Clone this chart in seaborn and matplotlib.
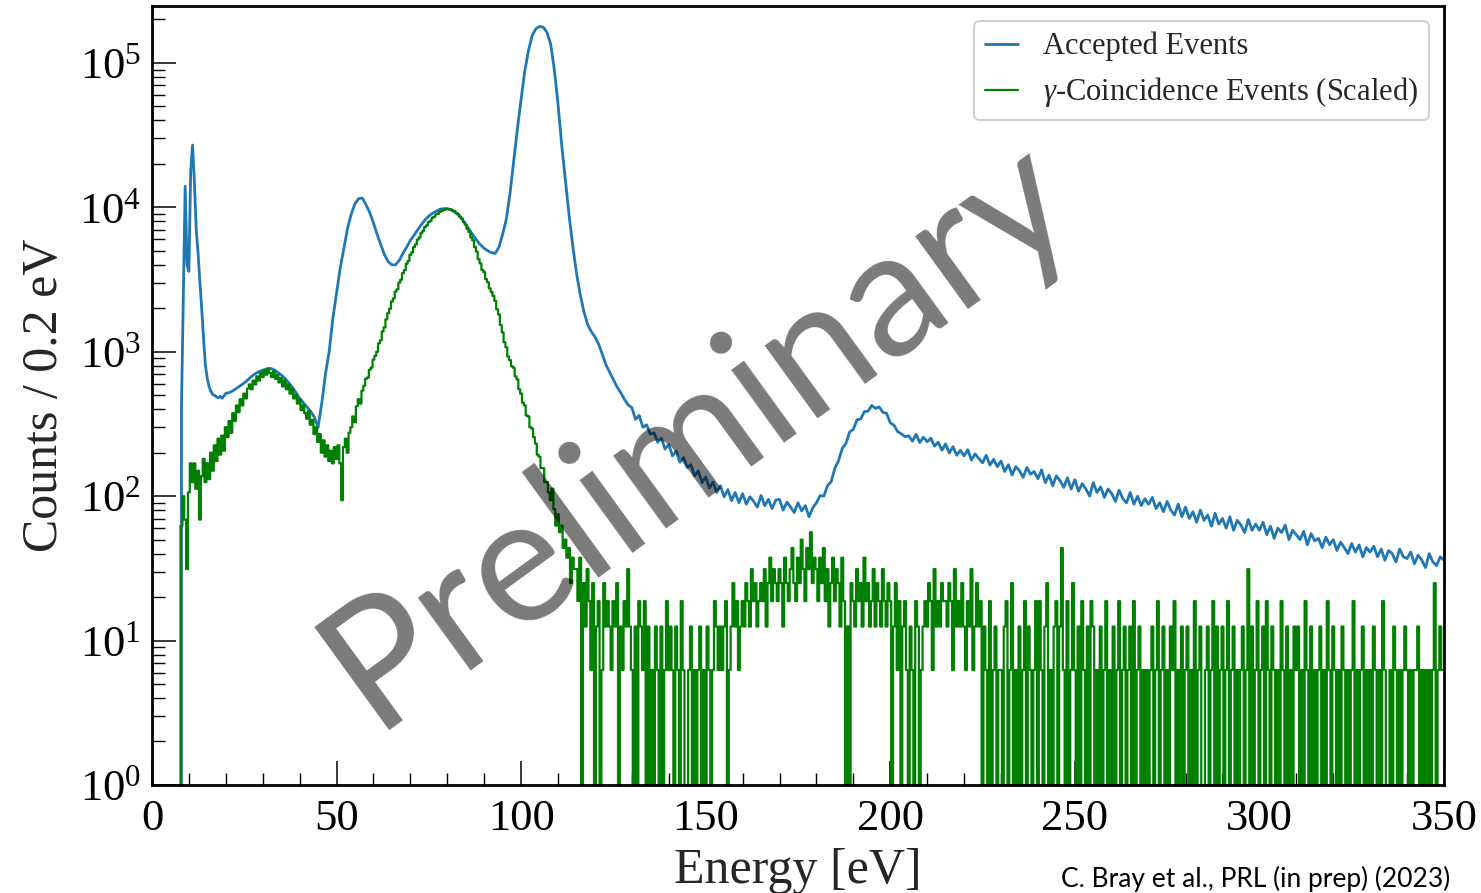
import numpy as np
import pandas as pd
import matplotlib
matplotlib.use("Agg")
import matplotlib.pyplot as plt
import matplotlib.ticker as mticker
import seaborn as sns

# ---------------- data (counts per 0.2 eV) ----------------
# Accepted events: fine sampling around the low-energy spikes (0.5 eV)
blue_energy_fine = [7.0, 7.5, 8.0, 8.5, 9.0, 9.5, 10.0, 10.5, 11.0, 11.5, 12.0, 12.5, 13.0,
                    13.5, 14.0, 14.5, 15.0, 15.5, 16.0, 16.5, 17.0, 17.5, 18.0, 18.5, 19.0, 19.5]
blue_counts_fine = [0, 0, 420, 2400, 14000, 4000, 3600, 18000, 27000, 15000, 7000, 4800, 3000,
                    1950, 1200, 800, 650, 570, 530, 505, 498, 486, 480, 492, 476, 494]
# Accepted events: 1 eV sampling from 20 to 350 eV
blue_counts_coarse = [
    515, 522, 538, 560, 582, 608, 640, 676, 705, 728,            # 20-29
    745, 760, 768, 752, 722, 690, 655, 612, 568, 522,            # 30-39
    476, 444, 414, 386, 352, 300, 440, 700, 1000, 1700,          # 40-49
    2550, 3800, 5200, 7200, 9000, 10600, 11500, 11600, 10400, 9200,   # 50-59
    7800, 6500, 5500, 4700, 4200, 4000, 4000, 4300, 4800, 5300,  # 60-69
    5900, 6400, 7000, 7600, 8200, 8700, 9100, 9400, 9700, 9800,  # 70-79
    9800, 9600, 9300, 8900, 8300, 7600, 7000, 6400, 5900, 5500,  # 80-89
    5200, 5000, 4850, 4800, 5300, 6500, 8300, 12500, 21000, 35000,    # 90-99
    56000, 88000, 122000, 155000, 172000, 179000, 177000, 163000, 135000, 90000,  # 100-109
    52000, 27000, 15500, 8800, 5400, 3500, 2500, 1900, 1550, 1380,    # 110-119
    1270, 1130, 960, 810, 720, 640, 570, 520, 468, 428,          # 120-129
    410, 340, 362, 300, 312, 268, 275, 236, 252, 212,            # 130-139
    228, 190, 205, 172, 185, 158, 165, 138, 150, 124,            # 140-149
    136, 114, 125, 106, 118, 99, 111, 93, 106, 90,               # 150-159
    104, 88, 99, 92, 84, 101, 86, 95, 82, 94,                    # 160-169
    95, 80, 91, 84, 77, 90, 79, 86, 72, 83,                      # 170-179
    90, 101, 100, 118, 126, 156, 176, 214, 232, 278,             # 180-189
    290, 338, 342, 385, 388, 425, 405, 415, 380, 375,            # 190-199
    322, 310, 280, 270, 258, 262, 240, 268, 235, 256,            # 200-209
    238, 252, 222, 236, 208, 230, 199, 220, 192, 208,            # 210-219
    190, 210, 178, 196, 182, 170, 192, 164, 180, 160,            # 220-229
    175, 148, 165, 140, 160, 150, 135, 158, 142, 148,            # 230-239
    132, 152, 124, 140, 118, 138, 128, 115, 134, 112,            # 240-249
    130, 108, 122, 112, 100, 124, 106, 116, 98, 112,             # 250-259
    104, 92, 110, 96, 90, 106, 88, 100, 86, 96,                  # 260-269
    88, 98, 82, 90, 78, 92, 80, 74, 88, 72,                      # 270-279
    84, 70, 78, 66, 80, 68, 74, 62, 76, 64,                      # 280-289
    70, 60, 72, 58, 68, 63, 56, 69, 58, 64,                      # 290-299
    58, 66, 54, 62, 51, 60, 56, 63, 50, 58,                      # 300-309
    54, 50, 57, 46, 55, 49, 51, 44, 52, 46,                      # 310-319
    50, 42, 48, 44, 40, 47, 41, 46, 38, 44,                      # 320-329
    41, 45, 38, 43, 36, 42, 40, 35, 43, 38,                      # 330-339
    37, 41, 34, 39, 36, 32, 40, 35, 33, 38,                      # 340-349
    36]                                                          # 350

# gamma-coincidence events (raw counts per 0.2 eV, sampled every 0.5 eV, 7.0 - 114.5 eV)
green_peak_counts = [
    0, 0, 10, 16, 11, 5, 17, 27, 20, 27, 18, 24, 11, 22, 29, 20, 27, 21,       # 7-15.5
    32, 24, 36, 28, 40, 31, 42, 33, 48, 41, 53, 44, 60, 53, 68, 61, 75, 68,    # 16-24.5
    82, 76, 89, 95, 88, 101, 95, 108, 101, 114, 107, 118, 111, 122, 114, 107,  # 25-32.5
    117, 104, 111, 98, 105, 92, 101, 88, 95, 82, 89, 76, 81, 70, 75, 63,       # 33-40.5
    68, 60, 55, 62, 50, 54, 43, 48, 38, 43, 32, 39, 30, 36, 28, 33,            # 41-48.5
    27, 35, 29, 36, 27, 15, 35, 40, 32, 44, 48, 57, 52, 67, 75, 70,            # 49-56.5
    86, 93, 104, 106, 120, 124, 141, 150, 160, 183, 192, 221, 236, 268, 296, 318,   # 57-64.5
    356, 374, 418, 433, 482, 505, 560, 588, 650, 680, 750, 780, 850, 885, 955, 990,  # 65-72.5
    1065, 1100, 1170, 1200, 1265, 1290, 1355, 1375, 1430, 1445, 1490, 1510, 1540, 1545,  # 73-79.5
    1560, 1550, 1550, 1520, 1505, 1460, 1430, 1375, 1335, 1265, 1215, 1130, 1080, 990,   # 80-86.5
    945, 850, 790, 700, 655, 590, 570, 510, 485, 440, 415, 390, 360, 315, 290, 245,      # 87-94.5
    218, 186, 172, 148, 140, 127, 124, 108, 103, 88, 82, 71, 68, 58, 57, 48,             # 95-102.5
    47, 41, 37, 31, 30, 25, 25, 20, 20, 17, 15, 18, 13, 10, 12, 9,                       # 103-110.5
    10, 7, 8, 6, 7, 4, 6, 5]                                                             # 111-114.5

# gamma-coincidence events, sparse tail (raw counts, every 0.5 eV, 115.0 - 349.5 eV)
green_tail_counts = [
    5, 3, 6, 0, 4, 2, 5, 3, 1, 4,   0, 2, 3, 0, 1, 4, 2, 3, 2, 1,   # 115-125
    3, 2, 4, 0, 2, 1, 3, 2, 5, 2,   1, 0, 2, 0, 3, 2, 1, 3, 0, 2,   # 125-135
    0, 1, 0, 2, 1, 0, 2, 0, 1, 3,   1, 2, 1, 0, 2, 1, 0, 3, 1, 0,   # 135-145
    0, 1, 2, 0, 1, 0, 1, 2, 0, 1,   0, 2, 1, 0, 1, 3, 2, 1, 2, 1,   # 145-155
    2, 3, 0, 1, 2, 4, 2, 3, 1, 2,   3, 2, 4, 3, 2, 5, 3, 4, 2, 3,   # 155-165
    4, 3, 5, 2, 4, 6, 3, 5, 4, 3,   5, 4, 2, 6, 4, 3, 5, 7, 4, 3,   # 165-175
    6, 4, 8, 5, 3, 7, 5, 9, 4, 6,   5, 3, 6, 4, 7, 3, 5, 2, 4, 6,   # 175-185
    3, 5, 4, 2, 6, 3, 0, 2, 0, 4,   3, 2, 5, 3, 4, 2, 6, 3, 4, 2,   # 185-195
    3, 5, 2, 4, 3, 2, 5, 3, 2, 4,   3, 0, 2, 4, 1, 3, 0, 2, 3, 1,   # 195-205
    0, 2, 1, 0, 3, 2, 0, 1, 2, 3,   2, 4, 3, 1, 5, 2, 3, 2, 4, 3,   # 205-215
    3, 2, 4, 3, 1, 5, 2, 3, 2, 4,   2, 1, 3, 2, 5, 1, 2, 4, 2, 3,   # 215-225
    0, 2, 1, 0, 3, 0, 1, 2, 0, 1,   1, 0, 2, 3, 0, 1, 4, 0, 1, 0,   # 225-235
    2, 0, 1, 3, 0, 2, 1, 0, 1, 3,   0, 3, 1, 0, 2, 4, 0, 1, 0, 2,   # 235-245
    3, 0, 2, 7, 1, 0, 3, 0, 1, 4,   1, 0, 2, 0, 3, 1, 0, 2, 0, 3,   # 245-255
    2, 0, 1, 0, 2, 0, 1, 3, 0, 1,   0, 2, 0, 1, 3, 0, 1, 2, 0, 1,   # 255-265
    2, 0, 3, 0, 1, 2, 0, 1, 0, 1,   0, 1, 2, 0, 1, 3, 0, 1, 2, 0,   # 265-275
    1, 0, 2, 1, 3, 0, 1, 0, 2, 0,   1, 2, 0, 1, 0, 3, 0, 1, 2, 0,   # 275-285
    0, 1, 2, 0, 1, 3, 0, 2, 0, 1,   2, 0, 1, 3, 0, 1, 2, 0, 1, 0,   # 285-295
    1, 2, 0, 1, 5, 0, 2, 0, 1, 3,   0, 1, 2, 0, 3, 1, 0, 2, 1, 0,   # 295-305
    1, 0, 3, 1, 0, 2, 0, 1, 0, 2,   1, 2, 0, 1, 0, 3, 1, 0, 2, 0,   # 305-315
    1, 0, 1, 2, 0, 1, 0, 3, 1, 0,   2, 1, 0, 1, 0, 2, 1, 0, 1, 0,   # 315-325
    1, 3, 0, 1, 0, 1, 2, 0, 1, 0,   1, 0, 2, 1, 0, 1, 0, 3, 1, 0,   # 325-335
    0, 1, 0, 2, 1, 0, 1, 0, 1, 2,   1, 0, 1, 0, 1, 1, 2, 0, 1, 0,   # 335-345
    1, 0, 1, 0, 1, 4, 0, 1, 2, 1]                                   # 345-350
green_scale = 6.25

x_ticks = [0, 50, 100, 150, 200, 250, 300, 350]

# ---------------- assemble frames ----------------
blue_energy = np.concatenate([blue_energy_fine, np.arange(20, 351, 1.0)])
blue_counts = np.concatenate([blue_counts_fine, blue_counts_coarse]).astype(float)
blue_df = pd.DataFrame({"Energy": blue_energy, "Counts": blue_counts})

green_energy = np.concatenate([np.arange(7.0, 115.0, 0.5), np.arange(115.0, 350.0, 0.5)])
green_counts = np.concatenate([green_peak_counts, green_tail_counts]).astype(float) * green_scale
green_df = pd.DataFrame({"Energy": green_energy, "Counts": green_counts})

# ---------------- style ----------------
sns.set_style("ticks")
plt.rcParams["font.family"] = ["Liberation Serif", "DejaVu Serif"]
plt.rcParams["mathtext.fontset"] = "custom"
plt.rcParams["mathtext.rm"] = "Liberation Serif"
plt.rcParams["mathtext.it"] = "Liberation Serif:italic"
plt.rcParams["mathtext.bf"] = "Liberation Serif:bold"

fig = plt.figure(figsize=(14.81, 8.93), dpi=100)
ax = fig.add_axes([0.1026, 0.121, 0.8724, 0.8723])

sns.lineplot(data=blue_df, x="Energy", y="Counts", ax=ax, color="#1f77b4",
             linewidth=2.0, estimator=None, sort=False, label="Accepted Events")
sns.lineplot(data=green_df, x="Energy", y="Counts", ax=ax, color="green",
             linewidth=1.6, estimator=None, sort=False, drawstyle="steps-mid",
             label=r"$\gamma$-Coincidence Events (Scaled)")

ax.set_yscale("log", nonpositive="clip")
ax.set_xlim(0, 350)
ax.set_ylim(1, 2.48e5)

ax.set_xticks(x_ticks)
ax.set_xticklabels([str(t) for t in x_ticks])
ax.xaxis.set_minor_locator(mticker.MultipleLocator(10))
ax.yaxis.set_major_locator(mticker.LogLocator(base=10, numticks=10))
ax.yaxis.set_minor_locator(mticker.LogLocator(base=10, subs=np.arange(2, 10), numticks=20))
ax.yaxis.set_minor_formatter(mticker.NullFormatter())

ax.tick_params(which="both", direction="in", bottom=True, left=True, top=False, right=False,
               colors="black")
ax.tick_params(which="major", length=17, width=1.1, labelsize=32, pad=10)
ax.tick_params(which="minor", length=9, width=1.0)
ax.tick_params(axis="y", which="major", pad=8)

for sp in ax.spines.values():
    sp.set_linewidth(2.0)
    sp.set_color("black")

ax.set_xlabel("Energy [eV]", fontsize=36, labelpad=6)
ax.set_ylabel("Counts / 0.2 eV", fontsize=36, labelpad=8)

leg = ax.legend(loc="upper right", prop={"family": "Liberation Serif", "size": 22},
                handlelength=1.1, handletextpad=0.8,
                labelspacing=0.45, borderpad=0.35, frameon=True, fancybox=True,
                framealpha=1.0, edgecolor="#d0d0d0")
leg.get_frame().set_linewidth(1.5)

fig.text(0.471, 0.516, "Preliminary", rotation=36, rotation_mode="anchor",
         ha="center", va="center", fontsize=127, family=["Lato", "DejaVu Sans"],
         color="black", alpha=0.52)
fig.text(0.979, 0.016, "C. Bray et al., PRL (in prep) (2023)", ha="right", va="center",
         fontsize=19, family=["Lato", "DejaVu Sans"], color="black")

fig.savefig("out.png", dpi=100)
